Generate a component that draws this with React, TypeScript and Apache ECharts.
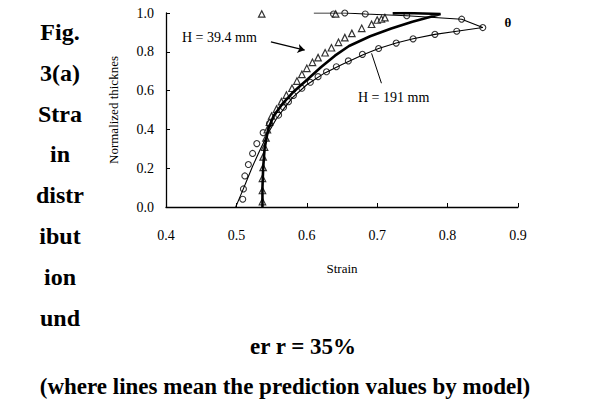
import React, { useEffect, useRef } from "react";
import * as echarts from "echarts";

// H = 191 mm experimental points (circles)
const circleStrain = [0.509, 0.51, 0.512, 0.517, 0.523, 0.529, 0.538, 0.547, 0.56, 0.567, 0.574, 0.581, 0.593, 0.605, 0.616, 0.628, 0.642, 0.659, 0.679, 0.702, 0.727, 0.751, 0.782, 0.813, 0.85, 0.82, 0.742, 0.683, 0.654, 0.638];
const circleThick = [0.04, 0.093, 0.16, 0.219, 0.276, 0.327, 0.383, 0.43, 0.474, 0.514, 0.543, 0.575, 0.612, 0.643, 0.672, 0.697, 0.723, 0.753, 0.787, 0.817, 0.845, 0.867, 0.89, 0.906, 0.925, 0.968, 0.986, 0.995, 1.0, 0.995];

// H = 39.4 mm experimental points (triangles)
const triStrain = [0.537, 0.537, 0.537, 0.538, 0.538, 0.54, 0.542, 0.544, 0.547, 0.55, 0.557, 0.564, 0.571, 0.579, 0.586, 0.593, 0.6, 0.608, 0.616, 0.626, 0.635, 0.645, 0.654, 0.664, 0.678, 0.692, 0.7, 0.706, 0.711, 0.536, 0.641];
const triThick = [0.028, 0.085, 0.148, 0.204, 0.258, 0.309, 0.356, 0.399, 0.438, 0.469, 0.505, 0.543, 0.577, 0.612, 0.649, 0.684, 0.715, 0.746, 0.77, 0.795, 0.821, 0.849, 0.873, 0.895, 0.921, 0.942, 0.964, 0.969, 0.976, 0.995, 0.995];

// model predictions (lines)
const model191Strain = [0.499, 0.506, 0.514, 0.523, 0.533, 0.545, 0.556, 0.568, 0.58, 0.6, 0.625, 0.65, 0.68, 0.702, 0.727, 0.751, 0.782, 0.813, 0.85, 0.82, 0.742, 0.683, 0.654, 0.61];
const model191Thick = [0.0, 0.06, 0.13, 0.21, 0.29, 0.38, 0.45, 0.51, 0.565, 0.63, 0.69, 0.735, 0.785, 0.817, 0.845, 0.867, 0.89, 0.906, 0.925, 0.968, 0.986, 0.995, 1.0, 1.0];
const model394Strain = [0.537, 0.537, 0.538, 0.54, 0.545, 0.553, 0.565, 0.58, 0.6, 0.62, 0.64, 0.66, 0.69, 0.72, 0.75, 0.78, 0.79, 0.74, 0.722];
const model394Thick = [0.0, 0.1, 0.2, 0.3, 0.4, 0.47, 0.53, 0.59, 0.655, 0.72, 0.78, 0.83, 0.88, 0.92, 0.955, 0.985, 0.995, 1.0, 0.998];

const xTicks = [0.4, 0.5, 0.6, 0.7, 0.8, 0.9];
const yTicks = [0.0, 0.2, 0.4, 0.6, 0.8, 1.0];

const captionLines = ["Fig.", "3(a)", "Stra", "in", "distr", "ibut", "ion", "und"];
const captionBottom = ["er r = 35%", "(where lines mean the prediction values by model)"];

const zip = (a: number[], b: number[]) => a.map((v, i) => [v, b[i]]);

const FONT = "Liberation Serif";

export default function App() {
  const ref = useRef<HTMLDivElement>(null);
  useEffect(() => {
    if (!ref.current) return;
    const chart = echarts.init(ref.current, undefined, { renderer: "svg" });
    const graphics: any[] = [];
    captionLines.forEach((t, i) => {
      graphics.push({
        type: "text",
        x: 60,
        y: 32 + i * 40.8,
        style: { text: t, font: `bold 24px "${FONT}"`, fill: "#000", align: "center", verticalAlign: "middle" },
      });
    });
    graphics.push({
      type: "text", x: 303, y: 346,
      style: { text: captionBottom[0], font: `bold 23px "${FONT}"`, fill: "#000", align: "center", verticalAlign: "middle" },
    });
    graphics.push({
      type: "text", x: 285, y: 386,
      style: { text: captionBottom[1], font: `bold 23px "${FONT}"`, fill: "#000", align: "center", verticalAlign: "middle" },
    });
    graphics.push({
      type: "text", x: 182, y: 37,
      style: { text: "H = 39.4 mm", font: `14px "${FONT}"`, fill: "#000", align: "left", verticalAlign: "middle" },
    });
    graphics.push({
      type: "text", x: 358, y: 97,
      style: { text: "H = 191 mm", font: `14px "${FONT}"`, fill: "#000", align: "left", verticalAlign: "middle" },
    });
    graphics.push({
      type: "text", x: 508, y: 22,
      style: { text: "θ", font: `bold 13px "${FONT}"`, fill: "#000", align: "center", verticalAlign: "middle" },
    });

    chart.setOption({
      animation: false,
      backgroundColor: "#fff",
      grid: { left: 166, right: 88, top: 13, bottom: 207, containLabel: false },
      xAxis: {
        type: "value",
        min: 0.4,
        max: 0.9,
        interval: 0.1,
        name: "Strain",
        nameLocation: "middle",
        nameGap: 55,
        nameTextStyle: { fontFamily: FONT, fontSize: 13, color: "#000" },
        axisLine: { show: true, lineStyle: { color: "#000", width: 1.3 } },
        axisTick: { show: true, inside: true, length: 4, lineStyle: { color: "#000" } },
        axisLabel: {
          margin: 21,
          fontFamily: FONT,
          fontSize: 14,
          color: "#000",
          formatter: (v: number) => (xTicks.some((t) => Math.abs(t - v) < 1e-6) ? v.toFixed(1) : ""),
        },
        splitLine: { show: false },
      },
      yAxis: {
        type: "value",
        min: 0,
        max: 1,
        interval: 0.2,
        name: "Normalized thicknes",
        nameLocation: "middle",
        nameGap: 46,
        nameTextStyle: { fontFamily: FONT, fontSize: 13, color: "#000" },
        axisLine: { show: true, lineStyle: { color: "#000", width: 1.3 } },
        axisTick: { show: true, inside: true, length: 4, lineStyle: { color: "#000" } },
        axisLabel: {
          margin: 12,
          fontFamily: FONT,
          fontSize: 14,
          color: "#000",
          formatter: (v: number) => (yTicks.some((t) => Math.abs(t - v) < 1e-6) ? v.toFixed(1) : ""),
        },
        splitLine: { show: false },
      },
      series: [
        {
          name: "Model H = 191 mm",
          type: "line",
          data: zip(model191Strain, model191Thick),
          showSymbol: false,
          lineStyle: { color: "#000", width: 1.1 },
          markLine: {
            silent: true,
            symbol: ["none", "none"],
            label: { show: false },
            lineStyle: { color: "#000", width: 1, type: "solid" },
            data: [[{ coord: [0.706, 0.638] }, { coord: [0.692, 0.792] }]],
          },
        },
        {
          name: "Model H = 39.4 mm",
          type: "line",
          data: zip(model394Strain, model394Thick),
          showSymbol: false,
          lineStyle: { color: "#000", width: 2.6 },
          markLine: {
            silent: true,
            symbol: ["none", "arrow"],
            symbolSize: 7,
            label: { show: false },
            lineStyle: { color: "#000", width: 1.3, type: "solid" },
            data: [[{ coord: [0.549, 0.851] }, { coord: [0.597, 0.809] }]],
          },
        },
        {
          name: "H = 191 mm",
          type: "scatter",
          data: zip(circleStrain, circleThick),
          symbol: "circle",
          symbolSize: 6,
          itemStyle: { color: "#fff", borderColor: "#000", borderWidth: 1.1 },
        },
        {
          name: "H = 39.4 mm",
          type: "scatter",
          data: zip(triStrain, triThick),
          symbol: "triangle",
          symbolSize: 6.5,
          itemStyle: { color: "#fff", borderColor: "#000", borderWidth: 1.2 },
        },
      ],
      graphic: graphics,
    });
    return () => chart.dispose();
  }, []);
  return <div ref={ref} style={{ position: "absolute", left: 0, top: 0, width: 606, height: 414 }} />;
}
